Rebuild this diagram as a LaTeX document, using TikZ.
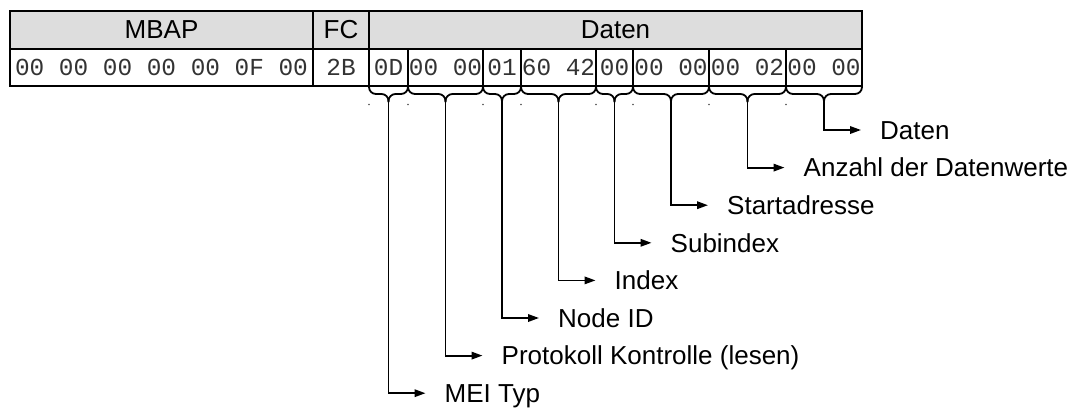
\documentclass[tikz,border=0pt]{standalone}
\usepackage{fontspec}
\setmainfont{Liberation Sans}
\newfontfamily\monofont{Liberation Mono}
\usetikzlibrary{arrows.meta,calc}
\definecolor{headgray}{HTML}{DDDDDD}
\definecolor{monogray}{HTML}{333333}
\begin{document}
\begin{tikzpicture}[x=1pt,y=-1pt,
  box/.style={draw=black, line width=1.8pt, inner sep=0pt, outer sep=0pt},
  hdr/.style={box, fill=headgray, minimum height=38pt, font=\fontsize{26}{30}\selectfont},
  dat/.style={box, minimum height=37pt, text=monogray, font=\monofont\fontsize{24.4}{30}\selectfont},
  lbl/.style={anchor=west, inner sep=0pt, text height=18.6pt, text depth=0pt, font=\fontsize{26}{30}\selectfont},
  conn/.style={line width=1.8pt},
  tip/.style={-{Triangle[length=11pt,width=7.5pt]}},
  dotm/.style={fill=black!70}
]
\useasboundingbox (0,0) rectangle (1085,408);

% header row
\node[hdr, minimum width=303pt] (mbap) at (161.5,30) {MBAP};
\node[hdr, minimum width=56pt] (fc) at (341,30) {FC};
\node[hdr, minimum width=493pt] (daten) at (615.5,30) {Daten};

% data row
\node[dat, minimum width=303pt] (mbapd) at (161.5,67.5) {00 00 00 00 00 0F 00};
\node[dat, minimum width=56pt] (fcd) at (341,67.5) {2B};
\node[dat, minimum width=39pt] (d1) at (388.5,67.5) {0D};
\node[dat, minimum width=75pt] (d2) at (445.5,67.5) {00 00};
\node[dat, minimum width=38pt] (d3) at (502,67.5) {01};
\node[dat, minimum width=75pt] (d4) at (558.5,67.5) {60 42};
\node[dat, minimum width=37pt] (d5) at (614.5,67.5) {00};
\node[dat, minimum width=76pt] (d6) at (671,67.5) {00 00};
\node[dat, minimum width=77pt] (d7) at (747.5,67.5) {00 02};
\node[dat, minimum width=76pt] (d8) at (824,67.5) {00 00};

% labels
\node[lbl] (l1) at (444.5,393.2) {MEI Typ};
\node[lbl] (l2) at (501.5,355.6) {Protokoll Kontrolle (lesen)};
\node[lbl] (l3) at (558,318) {Node ID};
\node[lbl] (l4) at (614.5,280.4) {Index};
\node[lbl] (l5) at (670.5,242.8) {Subindex};
\node[lbl] (l6) at (727,205.2) {Startadresse};
\node[lbl] (l7) at (803.5,167.6) {Anzahl der Datenwerte};
\node[lbl] (l8) at (880,130) {Daten};

% braces and connectors
\foreach \c/\l in {d1/l1,d2/l2,d3/l3,d4/l4,d5/l5,d6/l6,d7/l7,d8/l8}{
  \draw[conn, rounded corners=7pt] (\c.south west) -- ($(\c.south west)+(0,8)$) -- ($(\c.south)+(0,8)$) -- ($(\c.south)+(0,16)$);
  \draw[conn, rounded corners=7pt] (\c.south east) -- ($(\c.south east)+(0,8)$) -- ($(\c.south)+(0,8)$) -- ($(\c.south)+(0,16)$);
  \draw[conn, tip] ($(\c.south)+(0,16)$) |- ([xshift=-19pt]\l.west);
  \fill[dotm] ($(\c.south west)+(0,18.5)$) circle (0.8pt);
}
\end{tikzpicture}
\end{document}
